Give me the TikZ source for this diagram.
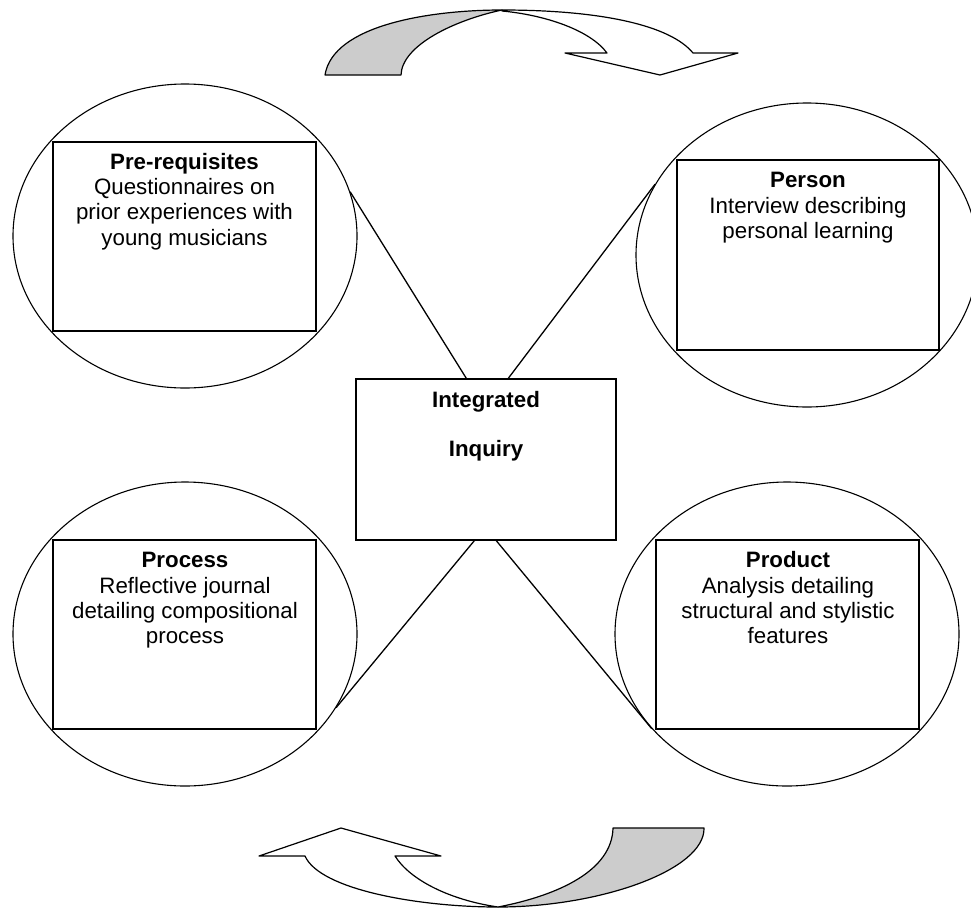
\documentclass[tikz,border=0pt]{standalone}
\usepackage{fontspec}
\setmainfont{Liberation Sans}
\usetikzlibrary{shapes.geometric}
\begin{document}
\begin{tikzpicture}[x=1pt,y=-1pt,
  oval/.style={draw, ellipse, line width=1.1pt, minimum width=344pt, minimum height=304pt, inner sep=0pt},
  box/.style={draw, rectangle, line width=1.4pt, inner sep=0pt},
  txt/.style={anchor=north, align=center, inner sep=0pt, font=\fontsize{22.3}{25.3}\selectfont},
  link/.style={line width=1.3pt},
  arr/.style={draw, line width=1.2pt, line join=round},
]
\useasboundingbox (0,0) rectangle (971,911);

% ellipses
\node[oval] (tl) at (185,236) {};
\node[oval, minimum width=342pt] (tr) at (807,255) {};
\node[oval] (bl) at (185,634) {};
\node[oval] (br) at (787,634) {};

% rectangles
\node[box, minimum width=263pt, minimum height=189pt] (tlr) at (184.5,236.5) {};
\node[box, minimum width=262pt, minimum height=190pt] (trr) at (808,255) {};
\node[box, minimum width=263pt, minimum height=189pt] (blr) at (184.5,634.5) {};
\node[box, minimum width=263pt, minimum height=189pt] (brr) at (787.5,634.5) {};
\node[box, minimum width=260pt, minimum height=161pt] (ii) at (486,459.5) {};

% texts
\node[txt] (tlt) at (184.5,149) {\rule{0pt}{20pt}\textbf{Pre-requisites}\\Questionnaires on\\prior experiences with\\young musicians};
\node[txt] (trt) at (808,167.7) {\rule{0pt}{20pt}\textbf{Person}\\Interview describing\\personal learning};
\node[txt] (blt) at (185,547.7) {\rule{0pt}{20pt}\textbf{Process}\\Reflective journal\\detailing compositional\\process};
\node[txt] (brt) at (788,547.7) {\rule{0pt}{20pt}\textbf{Product}\\Analysis detailing\\structural and stylistic\\features};
\node[txt] (iit) at (486,387.7) {\rule{0pt}{20pt}\textbf{Integrated}\\[23pt]\textbf{Inquiry}};

% connectors
\draw[link] (tl.15) -- ([xshift=111pt]ii.north west);
\draw[link] (tr.155.6) -- ([xshift=153pt]ii.north west);
\draw[link] (bl.-26.9) -- ([xshift=119pt]ii.south west);
\draw[link] (br.215.2) -- ([xshift=141pt]ii.south west);

% top curved arrow
\filldraw[arr, fill=gray!40] (401,75) -- (325,75) .. controls (333,25) and (430,10) .. (502,10) .. controls (455,20) and (402,45) .. (401,75) -- cycle;
\draw[arr, fill=white] (502,10) .. controls (600,10) and (670,25) .. (693,53) -- (738,53) -- (660,75) -- (565,53) -- (607,53) .. controls (590,30) and (545,15) .. (502,11) -- cycle;

% bottom curved arrow
\filldraw[arr, fill=gray!40] (613,828) -- (704,828) .. controls (705,870) and (600,907) .. (498,907) .. controls (560,895) and (612,870) .. (613,828) -- cycle;
\draw[arr, fill=white] (498,907) .. controls (420,907) and (320,890) .. (305,856) -- (259,856) -- (341,828) -- (441,856) -- (395,856) .. controls (410,880) and (450,900) .. (498,907) -- cycle;
\end{tikzpicture}
\end{document}
